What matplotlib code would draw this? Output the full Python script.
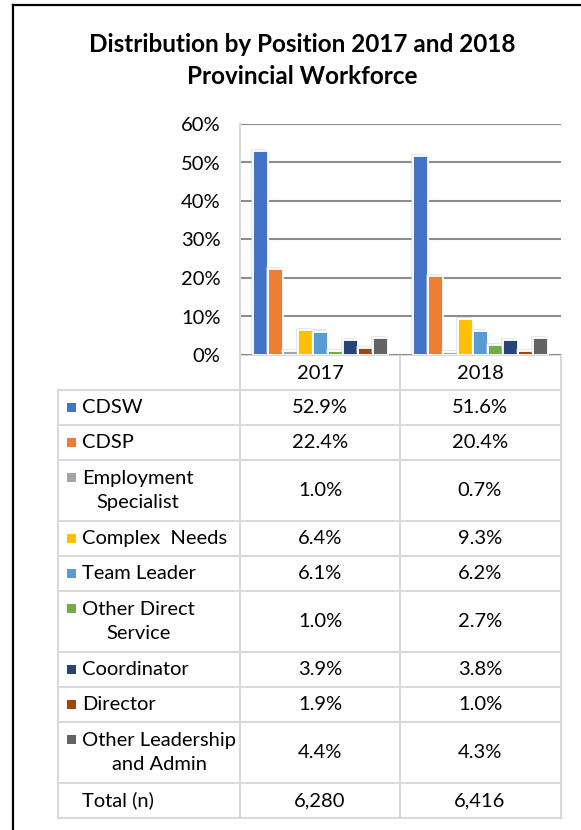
import matplotlib
matplotlib.use('Agg')
import matplotlib.pyplot as plt
import matplotlib.patheffects as pe
from matplotlib.patches import Rectangle
from matplotlib.ticker import PercentFormatter

# data
years = ['2017', '2018']
positions = ['CDSW', 'CDSP', 'Employment\nSpecialist', 'Complex  Needs', 'Team Leader',
             'Other Direct\nService', 'Coordinator', 'Director', 'Other Leadership\nand Admin']
share_2017 = [52.9, 22.4, 1.0, 6.4, 6.1, 1.0, 3.9, 1.9, 4.4]
share_2018 = [51.6, 20.4, 0.7, 9.3, 6.2, 2.7, 3.8, 1.0, 4.3]
totals = [6280, 6416]
colors = ['#4472C4', '#ED7D31', '#A5A5A5', '#FFC000', '#5B9BD5',
          '#70AD47', '#264478', '#9E480E', '#636363']

plt.rcParams['font.family'] = ['Lato', 'DejaVu Sans']

W, H = 581, 830
fig = plt.figure(figsize=(W / 100, H / 100), dpi=100)

# pixel overlay for frame, title and data table
ov = fig.add_axes([0, 0, 1, 1], zorder=0)
ov.set_xlim(0, W)
ov.set_ylim(H, 0)
ov.axis('off')

# bar area
ax = fig.add_axes([240 / W, 1 - 355 / H, (561 - 240) / W, (355 - 124) / H], zorder=1)
ax.patch.set_alpha(0)

slot = 15 / 160.5
shares = [share_2017, share_2018]
for i, name in enumerate(positions):
    vals = [s[i] / 100 for s in shares]
    xs = [k + (i - 4) * slot for k in range(len(years))]
    ax.bar(xs, vals, width=slot, color=colors[i], edgecolor='white', linewidth=1.3,
           zorder=3, path_effects=[pe.SimplePatchShadow(offset=(-1.5, 1.5), shadow_rgbFace='#d0d0d0', alpha=0.5),
                                   pe.Normal()])

ax.set_xlim(-0.5, 1.5)
ax.set_ylim(0, 0.6)
ax.set_yticks([0, 0.1, 0.2, 0.3, 0.4, 0.5, 0.6])
ax.yaxis.set_major_formatter(PercentFormatter(1.0, decimals=0))
ax.set_xticks([])
ax.tick_params(axis='y', length=0, pad=14, labelsize=14.5, labelcolor='black')
ax.grid(axis='y', color='#8c8c8c', linewidth=1.5, zorder=0)
for s in ['top', 'right', 'bottom']:
    ax.spines[s].set_visible(False)
ax.spines['left'].set_color('#d9d9d9')
ax.spines['left'].set_linewidth(1.5)

# outer frame
ov.plot([13, 13], [5, H], color='black', linewidth=1.6)
ov.plot([13, W], [5, 5], color='black', linewidth=1.6)

# title
ov.text(302, 45, 'Distribution by Position 2017 and 2018', ha='center', va='center',
        fontsize=17.5, fontweight='bold')
ov.text(302, 77, 'Provincial Workforce', ha='center', va='center',
        fontsize=17.5, fontweight='bold')

# data table
grid_c = '#d9d9d9'
col_x = [58, 240, 400, 561]
col_mid = [320, 480]
fs = 14.5

ov.plot([240, 561], [355, 355], color=grid_c, linewidth=1.5)
for k, yr in enumerate(years):
    ov.text(col_mid[k], 373, yr, ha='center', va='center', fontsize=fs)

y = 390
row_lines = [y]
for i, name in enumerate(positions):
    h = 61 if '\n' in name else 35
    yc = y + h / 2
    first = yc - 13 if '\n' in name else yc
    ov.add_patch(Rectangle((67, first - 4.5), 9, 9, color=colors[i], linewidth=0))
    ov.text(82, yc, name, ha='left', va='center', multialignment='center',
            fontsize=fs, linespacing=1.55)
    for k in range(len(years)):
        ov.text(col_mid[k], yc, f'{shares[k][i]:.1f}%', ha='center', va='center', fontsize=fs)
    y += h
    row_lines.append(y)

yc = y + 35 / 2
ov.text(82, yc, 'Total (n)', ha='left', va='center', fontsize=fs)
for k in range(len(years)):
    ov.text(col_mid[k], yc, f'{totals[k]:,}', ha='center', va='center', fontsize=fs)
y += 35
row_lines.append(y)

for ry in row_lines:
    ov.plot([58, 561], [ry, ry], color=grid_c, linewidth=1.5)
ov.plot([58, 58], [390, y], color=grid_c, linewidth=1.5)
for cx in col_x[1:]:
    ov.plot([cx, cx], [355, y], color=grid_c, linewidth=1.5)

fig.savefig('out.png', dpi=100)
